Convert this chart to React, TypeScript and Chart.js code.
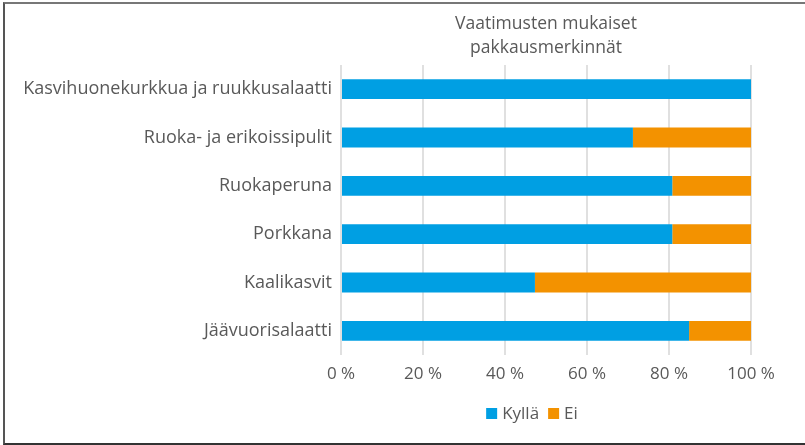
import { useEffect, useRef } from "react";
import { Chart, registerables } from "chart.js";

Chart.register(...registerables);

const categories = [
  "Kasvihuonekurkkua ja ruukkusalaatti",
  "Ruoka- ja erikoissipulit",
  "Ruokaperuna",
  "Porkkana",
  "Kaalikasvit",
  "Jäävuorisalaatti",
];
const kyllaValues = [100, 71.2, 80.8, 80.8, 47.3, 84.9];
const eiValues = [0, 28.8, 19.2, 19.2, 52.7, 15.1];
const seriesNames = ["Kyllä", "Ei"];
const seriesColors = ["#009FE3", "#F39200"];
const titleLines = ["Vaatimusten mukaiset", "pakkausmerkinnät"];
const xTickStep = 20;
const xMax = 100;

const FONT = "'Open Sans', sans-serif";
const TEXT = "#595959";

const overlayPlugin = {
  id: "overlay",
  afterDraw(chart: any) {
    const { ctx, chartArea } = chart;
    const cx = (chartArea.left + chartArea.right) / 2;
    ctx.save();
    ctx.fillStyle = TEXT;
    ctx.textBaseline = "middle";
    ctx.textAlign = "center";
    ctx.font = `17.5px ${FONT}`;
    titleLines.forEach((line, i) => ctx.fillText(line, cx, 24 + i * 24));

    // legend
    ctx.font = `17px ${FONT}`;
    const box = 11;
    const gapBoxText = 5;
    const gapItems = 9;
    const items = chart.data.datasets.map((ds: any) => ({
      label: ds.label,
      color: ds.backgroundColor,
      w: ctx.measureText(ds.label).width,
    }));
    const total =
      items.reduce((s: number, it: any) => s + box + gapBoxText + it.w, 0) +
      gapItems * (items.length - 1);
    let x = 532 - total / 2;
    const y = 414;
    ctx.textAlign = "left";
    items.forEach((it: any) => {
      ctx.fillStyle = it.color;
      ctx.fillRect(x, y - box / 2 - 0.5, box, box);
      x += box + gapBoxText;
      ctx.fillStyle = TEXT;
      ctx.fillText(it.label, x, y);
      x += it.w + gapItems;
    });
    ctx.restore();
  },
};

export default function App() {
  const ref = useRef<HTMLCanvasElement>(null);

  useEffect(() => {
    const chart = new Chart(ref.current!, {
      type: "bar",
      data: {
        labels: categories,
        datasets: [
          {
            label: seriesNames[0],
            data: kyllaValues,
            backgroundColor: seriesColors[0],
            borderWidth: 0,
          },
          {
            label: seriesNames[1],
            data: eiValues,
            backgroundColor: seriesColors[1],
            borderWidth: 0,
          },
        ],
      },
      options: {
        indexAxis: "y",
        animation: false,
        responsive: false,
        maintainAspectRatio: false,
        layout: { padding: { top: 65, right: 54, left: 0, bottom: 0 } },
        datasets: {
          bar: { categoryPercentage: 1, barPercentage: 0.41 },
        },
        plugins: {
          legend: { display: false },
          title: { display: false },
          tooltip: { enabled: false },
        },
        scales: {
          x: {
            stacked: true,
            min: 0,
            max: xMax,
            border: { display: false },
            grid: { color: "#e0e0e0", lineWidth: 2, drawTicks: false },
            ticks: {
              stepSize: xTickStep,
              padding: 9,
              color: TEXT,
              font: { family: FONT, size: 17 },
              callback: (v: any) => `${v} %`,
            },
            afterFit: (scale: any) => {
              scale.height = 90;
            },
          },
          y: {
            stacked: true,
            border: { display: false },
            grid: { display: false, drawTicks: false },
            ticks: {
              padding: 9,
              color: TEXT,
              font: { family: FONT, size: 18 },
            },
            afterFit: (scale: any) => {
              scale.width = 341;
            },
          },
        },
      },
      plugins: [overlayPlugin],
    });
    return () => chart.destroy();
  }, []);

  return (
    <div
      style={{
        position: "fixed",
        left: 0,
        top: 0,
        width: 805,
        height: 445,
        background: "#ffffff",
        overflow: "hidden",
      }}
    >
      <div
        style={{
          position: "absolute",
          left: 3,
          top: 2,
          width: 810,
          height: 439,
          borderLeft: "2px solid #555555",
          borderTop: "2px solid #777777",
          borderBottom: "2px solid #333333",
        }}
      />
      <canvas
        ref={ref}
        width={805}
        height={445}
        style={{ position: "absolute", left: 0, top: 0, width: 805, height: 445 }}
      />
    </div>
  );
}
